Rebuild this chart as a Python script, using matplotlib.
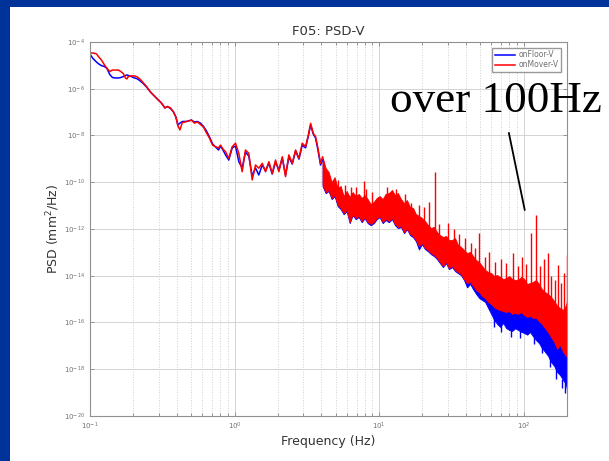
import numpy as np
import matplotlib
matplotlib.use('Agg')
import matplotlib.pyplot as plt
from matplotlib.patches import Rectangle
from matplotlib.ticker import LogLocator, NullLocator

# PSD values are given as log10 exponents

# low frequency part (thin lines)
low_f = [0.101, 0.105, 0.111, 0.115, 0.120, 0.126, 0.131, 0.137, 0.143, 0.150,
         0.157, 0.163, 0.170, 0.176, 0.180, 0.184, 0.193, 0.204, 0.213, 0.223,
         0.234, 0.248, 0.262, 0.281, 0.297, 0.312, 0.330, 0.343, 0.360, 0.378,
         0.393, 0.406, 0.419, 0.436, 0.457, 0.480, 0.503, 0.528, 0.554, 0.581,
         0.610, 0.640, 0.671, 0.705, 0.739, 0.775, 0.800, 0.832, 0.867, 0.913,
         0.964, 1.016, 1.071, 1.130, 1.191, 1.256, 1.326, 1.398, 1.473, 1.556,
         1.640, 1.729, 1.824, 1.923, 2.028, 2.141, 2.255, 2.378, 2.510, 2.647,
         2.792, 2.944, 3.104, 3.242, 3.364, 3.51, 3.64, 3.78, 3.94, 4.07]
mover_low = [-4.47, -4.47, -4.51, -4.64, -4.77, -4.98, -5.13, -5.26, -5.20, -5.20,
             -5.20, -5.26, -5.35, -5.54, -5.58, -5.48, -5.45, -5.45, -5.50, -5.60,
             -5.75, -5.93, -6.14, -6.33, -6.48, -6.61, -6.82, -6.76, -6.82, -6.99,
             -7.21, -7.59, -7.76, -7.44, -7.42, -7.38, -7.34, -7.47, -7.42, -7.53,
             -7.64, -7.89, -8.11, -8.41, -8.48, -8.53, -8.41, -8.58, -8.69, -8.98,
             -8.48, -8.33, -8.76, -9.55, -8.62, -8.76, -9.90, -9.26, -9.40, -9.19,
             -9.55, -9.12, -9.62, -9.05, -9.55, -8.91, -9.76, -8.83, -9.19, -8.62,
             -8.98, -8.33, -8.48, -7.98, -7.48, -7.91, -8.05, -8.55, -9.19, -8.92]
floor_low = [-4.56, -4.71, -4.86, -4.94, -5.01, -5.05, -5.13, -5.39, -5.52, -5.54,
             -5.54, -5.52, -5.48, -5.43, -5.41, -5.43, -5.48, -5.54, -5.58, -5.67,
             -5.78, -5.95, -6.14, -6.33, -6.48, -6.61, -6.82, -6.76, -6.84, -6.99,
             -7.21, -7.55, -7.47, -7.40, -7.40, -7.38, -7.34, -7.42, -7.40, -7.47,
             -7.61, -7.81, -8.06, -8.36, -8.49, -8.62, -8.45, -8.62, -8.83, -9.05,
             -8.53, -8.45, -9.12, -9.39, -8.71, -8.88, -9.73, -9.39, -9.69, -9.26,
             -9.52, -9.18, -9.65, -9.13, -9.48, -8.96, -9.69, -8.92, -9.22, -8.66,
             -9.01, -8.41, -8.53, -8.02, -7.55, -7.94, -8.11, -8.62, -9.26, -9.05]

# high frequency part (dense noise band: upper / lower edge)
band_f = [4.07, 4.27, 4.48, 4.70, 4.93, 5.17, 5.43, 5.69, 5.97, 6.27,
          6.57, 6.90, 7.24, 7.59, 7.96, 8.35, 8.76, 9.20, 9.65, 10.1,
          10.6, 11.1, 11.7, 12.3, 12.9, 13.5, 14.2, 14.9, 15.6, 16.4,
          17.2, 18.0, 18.9, 19.8, 20.8, 21.8, 22.9, 24.0, 25.2, 26.4,
          27.7, 29.1, 30.5, 32.0, 33.6, 35.2, 37.0, 38.8, 40.7, 42.7,
          44.8, 47.0, 49.3, 51.7, 54.2, 56.9, 59.7, 62.6, 65.7, 68.9,
          72.3, 75.9, 79.6, 83.5, 87.6, 91.9, 96.4, 101, 106, 111,
          116, 122, 128, 134, 141, 148, 155, 163, 171, 179,
          188, 197, 200]
mover_hi = [-8.92, -9.39, -9.56, -9.99, -9.78, -10.25, -10.16, -10.59, -10.37, -10.63,
            -10.42, -10.59, -10.50, -10.67, -10.55, -10.72, -10.93, -10.84, -10.67, -10.59,
            -10.72, -10.50, -10.46, -10.33, -10.55, -10.46, -10.72, -10.89, -10.76, -11.06,
            -11.10, -11.36, -11.44, -11.53, -11.66, -11.83, -11.96, -11.91, -12.13, -12.26,
            -12.34, -12.30, -12.47, -12.47, -12.39, -12.68, -12.77, -12.90, -13.03, -12.98,
            -13.16, -13.33, -13.41, -13.58, -13.75, -13.84, -13.88, -14.01, -13.97, -14.05,
            -14.14, -14.10, -14.01, -14.14, -14.18, -14.18, -14.05, -14.14, -14.35, -14.31,
            -14.27, -14.18, -14.35, -14.57, -14.70, -14.78, -14.91, -15.08, -15.29, -15.38,
            -15.47, -15.25, -15.04]
mover_lo = [-10.12, -10.42, -10.33, -10.67, -10.55, -10.97, -11.10, -11.32, -11.19, -11.70,
            -11.36, -11.53, -11.44, -11.66, -11.49, -11.70, -11.79, -11.70, -11.53, -11.44,
            -11.70, -11.57, -11.66, -11.53, -11.79, -11.91, -11.87, -12.13, -11.96, -12.21,
            -12.30, -12.47, -12.73, -12.60, -12.81, -12.90, -13.03, -13.11, -13.24, -13.41,
            -13.58, -13.41, -13.67, -13.58, -13.75, -13.84, -13.93, -14.14, -14.31, -14.27,
            -14.44, -14.61, -14.70, -14.87, -14.95, -15.12, -15.21, -15.34, -15.42, -15.47,
            -15.51, -15.55, -15.51, -15.63, -15.59, -15.63, -15.55, -15.68, -15.76, -15.72,
            -15.80, -15.80, -15.94, -16.06, -16.24, -16.41, -16.62, -16.83, -17.13, -16.96,
            -17.26, -17.43, -17.18]
floor_hi = [-9.05, -9.52, -9.69, -10.12, -9.91, -10.38, -10.29, -10.72, -10.50, -10.76,
            -10.55, -10.72, -10.63, -10.80, -10.68, -10.85, -11.06, -10.97, -10.80, -10.72,
            -10.85, -10.63, -10.59, -10.46, -10.68, -10.59, -10.85, -11.02, -10.89, -11.19,
            -11.23, -11.49, -11.57, -11.66, -11.79, -11.96, -12.09, -12.04, -12.26, -12.39,
            -12.47, -12.43, -12.60, -12.60, -12.52, -12.81, -12.90, -13.03, -13.16, -13.11,
            -13.29, -14.27, -14.36, -14.53, -14.61, -14.78, -14.87, -15.00, -15.08, -15.13,
            -15.17, -15.21, -15.17, -15.29, -15.25, -15.29, -15.21, -15.34, -15.42, -15.38,
            -15.46, -15.46, -15.60, -15.72, -15.90, -16.07, -16.28, -16.49, -16.79, -16.62,
            -16.92, -17.09, -16.84]
floor_lo = [-10.17, -10.47, -10.38, -10.72, -10.60, -11.02, -11.15, -11.37, -11.24, -11.75,
            -11.41, -11.58, -11.49, -11.71, -11.54, -11.75, -11.84, -11.75, -11.58, -11.49,
            -11.75, -11.62, -11.71, -11.58, -11.84, -11.96, -11.92, -12.18, -12.01, -12.26,
            -12.35, -12.52, -12.88, -12.65, -12.86, -12.95, -13.08, -13.16, -13.29, -13.46,
            -13.63, -13.46, -13.72, -13.63, -13.80, -13.89, -13.98, -14.19, -14.50, -14.35,
            -14.58, -14.78, -14.95, -15.04, -15.12, -15.38, -15.63, -15.89, -16.06, -16.19,
            -16.02, -16.24, -16.32, -16.36, -16.25, -16.32, -16.40, -16.45, -16.52, -16.41,
            -16.58, -16.75, -16.88, -17.09, -17.26, -17.43, -17.69, -17.86, -18.12, -18.25,
            -18.46, -18.67, -18.89]

# narrow peaks sticking out of the onMover band
spike_f = [5.2, 5.8, 6.4, 6.90, 7.83, 8.1, 9.0, 11.4, 13.2, 15.2,
           16.6, 18.8, 20.4, 22.1, 24.3, 26.0, 29.9, 33.0, 36.0, 39.5,
           43.2, 46.0, 49.1, 54.0, 58.0, 64.0, 70.0, 75.5, 84.5, 92.0,
           97.0, 104, 112, 122, 131, 138, 148, 156, 166, 173,
           183, 190, 199]
spike_top = [-9.90, -10.10, -10.20, -10.20, -9.95, -10.30, -10.40, -10.20, -10.30, -10.50,
             -10.89, -10.97, -11.06, -10.85, -9.56, -11.80, -11.74, -12.00, -12.20, -12.40,
             -12.60, -12.80, -12.17, -13.20, -13.00, -13.40, -13.30, -13.45, -13.03, -13.60,
             -13.20, -13.50, -12.17, -11.40, -13.60, -13.30, -13.03, -14.00, -14.20, -13.54,
             -14.30, -13.88, -13.11]
spike_base = [-10.40, -10.70, -10.70, -10.76, -10.76, -10.90, -10.95, -10.80, -10.80, -11.10,
              -11.40, -11.62, -11.70, -11.97, -12.04, -12.50, -12.47, -12.60, -12.90, -13.10,
              -13.11, -13.40, -13.41, -13.90, -14.00, -14.20, -14.20, -14.18, -14.18, -14.30,
              -14.20, -14.40, -14.40, -14.40, -14.70, -14.80, -14.87, -15.10, -15.40, -15.38,
              -15.50, -15.55, -15.12]

# narrow dips below the onFloor band
dip_f = [62.0, 70.0, 82.0, 95.0, 118, 135, 152, 168, 185, 195]
dip_bottom = [-16.20, -16.40, -16.60, -16.65, -16.90, -17.30, -17.90, -18.40, -18.80, -19.00]
dip_top = [-15.80, -15.90, -16.20, -16.30, -16.40, -16.90, -17.40, -17.90, -18.40, -18.60]

def p(v):
    return np.power(10.0, np.array(v))

fig = plt.figure(figsize=(6.09, 4.61), dpi=100)
fig.patch.set_facecolor('#003399')
fig.add_artist(Rectangle((10 / 609, 0), 1, 1 - 7 / 461, transform=fig.transFigure,
                         facecolor='white', edgecolor='none', zorder=-10))

ax = fig.add_axes([90 / 609, 45 / 461, 477 / 609, 374 / 461])
ax.set_xscale('log')
ax.set_yscale('log')

blue = '#0000ff'
red = '#ff0000'
ax.plot(low_f, p(floor_low), color=blue, lw=1.1, label='onFloor-V')
ax.fill_between(band_f, p(floor_lo), p(floor_hi), color=blue, lw=0.6)
ax.vlines(dip_f, p(dip_bottom), p(dip_top), color=blue, lw=1.0)
ax.plot(low_f, p(mover_low), color=red, lw=1.1, label='onMover-V')
ax.fill_between(band_f, p(mover_lo), p(mover_hi), color=red, lw=0.6)
ax.vlines(spike_f, p(spike_base), p(spike_top), color=red, lw=1.0)

ax.set_xlim(0.1, 200)
ax.set_ylim(1e-20, 1e-4)
ax.set_xticks([0.1, 1, 10, 100])
ax.xaxis.set_minor_locator(LogLocator(base=10, subs=np.arange(2, 10)))
ax.set_yticks([10.0 ** k for k in range(-20, -3, 2)])
ax.yaxis.set_minor_locator(NullLocator())

ax.grid(True, which='major', color='#d4d4d4', lw=0.7, ls='-')
ax.grid(True, which='minor', axis='x', color='#d0d0d0', lw=0.7, ls=':')
ax.set_axisbelow(True)

ax.tick_params(which='both', direction='in', top=True, right=True,
               color='#888888', labelcolor='#707070', labelsize=5, width=0.6)
ax.tick_params(which='major', length=3)
ax.tick_params(which='minor', length=2)
for s in ax.spines.values():
    s.set_color('#909090')
    s.set_linewidth(0.8)

ax.set_title('F05: PSD-V', fontsize=9.5, color='#333333', pad=5)
ax.set_xlabel('Frequency (Hz)', fontsize=9, color='#333333')
ax.xaxis.set_label_coords(0.5, -0.052)
ax.set_ylabel('PSD (mm$^2$/Hz)', fontsize=9, color='#333333')
ax.yaxis.set_label_coords(-0.058, 0.5)

leg = ax.legend(loc='upper right', bbox_to_anchor=(0.987, 0.984), borderaxespad=0,
                fontsize=5.5, fancybox=False, edgecolor='#999999', framealpha=1,
                handlelength=2.6, borderpad=0.3, labelspacing=0.15, handletextpad=0.5)
for t in leg.get_texts():
    t.set_color('#707070')

# callout
ax.annotate('', xy=(102, 10 ** -11.19), xytext=(79.2, 10 ** -7.89),
            arrowprops=dict(arrowstyle='-', color='black', lw=1.3,
                            shrinkA=0, shrinkB=0))
fig.text(390 / 609, 1 - 112 / 461, 'over 100Hz', fontsize=32.5,
         family='Liberation Serif', ha='left', va='baseline', color='black')

fig.savefig('out.png', dpi=100, facecolor=fig.get_facecolor())
